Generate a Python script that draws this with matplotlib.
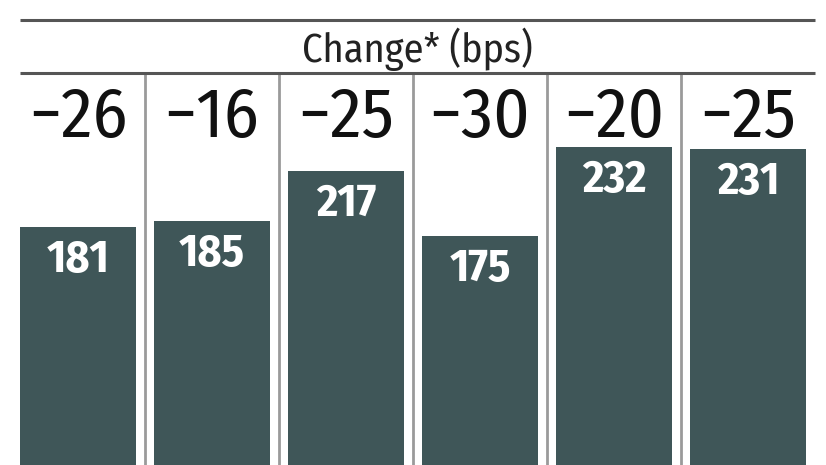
import matplotlib
matplotlib.use("Agg")
import matplotlib.pyplot as plt

# Data
categories = ["A", "B", "C", "D", "E", "F"]
values = [181, 185, 217, 175, 232, 231]
changes = ["−26", "−16", "−25", "−30", "−20", "−25"]
header = "Change* (bps)"

fam = ["Fira Sans Condensed", "IBM Plex Sans Condensed", "DejaVu Sans"]
plt.rcParams["font.family"] = fam

W, H = 826, 465
fig = plt.figure(figsize=(W / 100, H / 100), dpi=100)
ax = fig.add_axes([0, 0, 1, 1])
ax.set_axis_off()

bar_color = "#3f5658"
x = list(range(len(categories)))
ax.bar(x, values, width=0.866, color=bar_color, zorder=2)

ax.set_xlim(-0.582, 5.582)
ax.set_ylim(29.3, 325.7)

# horizontal rules (axes fractions)
for ypx in (20, 73):
    ax.plot([20 / W, 815 / W], [1 - ypx / H, 1 - ypx / H], transform=ax.transAxes,
            color="#555555", lw=2.2, zorder=3, solid_capstyle="butt")

# vertical separators
top_frac = 1 - 73 / H
for i in range(len(categories) - 1):
    ax.axvline(i + 0.5, ymin=0, ymax=top_frac, color="#9a9a9a", lw=2, zorder=1)

# header
ax.text(0.505, 1 - 62 / H, header, transform=ax.transAxes, ha="center",
        va="baseline", fontsize=29, color="#222222")

# change values
trans = ax.get_xaxis_transform()
for xi, c in zip(x, changes):
    ax.text(xi, 1 - 137 / H, c, transform=trans, ha="center",
            va="baseline", fontsize=51, color="#111111")

# bar labels
for xi, v in zip(x, values):
    ax.annotate(str(v), (xi, v), xytext=(0, -32.4), textcoords="offset points",
                ha="center", va="baseline", fontsize=33, fontweight="bold",
                color="white", zorder=4)

fig.savefig("out.png", dpi=100, facecolor="white")
